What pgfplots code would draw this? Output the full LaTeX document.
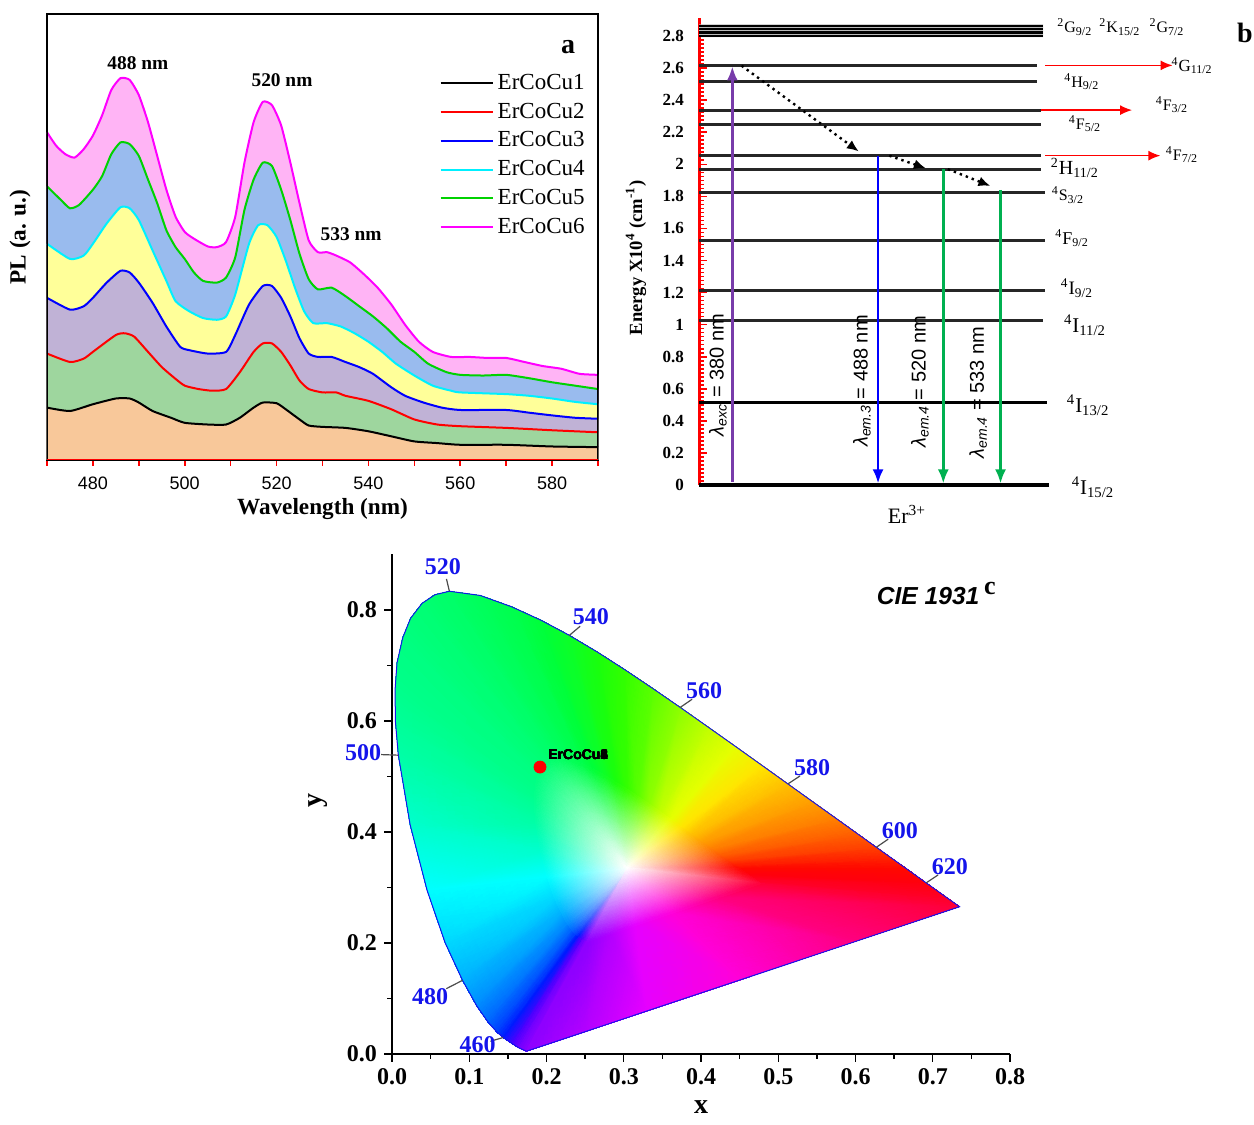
\documentclass[border=0pt]{standalone}
\usepackage{pgfplots}
\pgfplotsset{compat=1.18}
\usepackage{pgfplotstable}
\usepgfplotslibrary{patchplots}
\usetikzlibrary{arrows.meta}
\usepackage{fontspec}
\setmainfont{Liberation Serif}
\setsansfont{Liberation Sans}
\definecolor{cpeach}{RGB}{248,200,154}
\definecolor{cgreenf}{RGB}{158,214,158}
\definecolor{clav}{RGB}{192,178,214}
\definecolor{cyel}{RGB}{255,255,153}
\definecolor{cblue}{RGB}{153,187,238}
\definecolor{cpink}{RGB}{255,180,245}
\definecolor{lgreen}{RGB}{0,210,0}
\definecolor{ccyan}{RGB}{0,240,255}
\definecolor{cmag}{RGB}{255,0,255}
\definecolor{cred}{RGB}{255,0,0}
\definecolor{cblu}{RGB}{0,0,255}
\definecolor{purp}{RGB}{120,60,170}
\definecolor{egreen}{RGB}{0,176,80}
\definecolor{lblue}{RGB}{20,20,235}

\pgfplotstableread{
x y
470 155
475 145
480 165
485 182
488 182
490 170
493 145
497 125
500 110
505 105
509 105
512 125
515 155
517 170
520 168
522 150
525 120
527 102
530 98
535 95
540 85
545 70
550 55
555 50
560 45
570 45
580 40
590 38
}\cA
\pgfplotstableread{
x y
470 315
475 290
478 300
480 320
485 370
487 375
489 365
492 320
495 275
498 240
500 220
503 210
506 205
509 210
512 260
515 320
517 345
519 345
521 320
523 280
525 235
527 210
530 200
533 200
535 190
540 175
545 150
550 120
555 105
560 100
570 95
580 88
590 82
}\cB
\pgfplotstableread{
x y
470 480
475 445
478 455
480 480
483 525
486 560
488 555
490 525
493 465
496 395
499 335
501 325
505 315
509 320
511 370
514 460
517 515
519 515
521 480
523 425
525 360
527 315
529 305
532 305
535 290
538 275
541 255
545 215
548 190
552 170
556 155
560 148
570 148
575 140
580 132
585 125
590 122
}\cC
\pgfplotstableread{
x y
470 640
475 595
478 605
480 640
483 700
486 748
488 745
490 710
493 620
496 530
498 470
501 440
504 420
507 415
509 425
511 490
514 640
516 695
518 695
520 660
522 590
524 510
526 440
528 405
531 405
534 395
537 375
540 350
543 320
546 285
550 250
554 220
558 205
560 200
570 195
575 190
580 182
585 172
590 165
}\cD
\pgfplotstableread{
x y
470 810
473 770
475 745
477 755
480 800
482 840
484 905
486 940
488 935
490 900
492 830
494 760
496 680
498 630
500 595
502 555
504 530
507 525
509 540
511 600
513 740
515 830
517 880
519 870
521 800
523 710
525 610
527 535
529 505
532 510
535 485
538 455
541 425
544 390
547 350
550 320
553 285
557 260
560 252
565 250
570 252
575 242
580 230
585 220
590 210
}\cE
\pgfplotstableread{
x y
470 970
472 930
474 905
476 895
478 920
480 960
482 1020
484 1095
486 1130
488 1125
490 1080
492 1000
494 900
496 800
498 720
500 675
502 655
505 632
507 630
509 645
511 720
513 880
515 1000
517 1060
519 1050
521 990
523 880
525 760
527 650
529 615
531 615
533 605
536 585
539 550
542 510
545 460
548 400
551 350
554 320
558 305
562 305
566 302
570 302
574 290
578 278
582 270
586 255
590 252
}\cF

\pgfplotstableread{
x y c
0.305 0.335 rgb=1,1,1
0.1741 0.0050 rgb=0.55,0,1
0.1644 0.0109 rgb=0.45,0,1
0.1566 0.0177 rgb=0.3,0,1
0.1440 0.0297 rgb=0,0.1,1
0.1355 0.0399 rgb=0,0.25,1
0.1241 0.0578 rgb=0,0.4,1
0.1096 0.0868 rgb=0,0.55,1
0.0913 0.1327 rgb=0,0.7,1
0.0687 0.2007 rgb=0,0.85,1
0.0454 0.2950 rgb=0,1,1
0.0235 0.4127 rgb=0,1,0.8
0.0082 0.5384 rgb=0,1,0.65
0.0045 0.5980 rgb=0,1,0.6
0.0039 0.6548 rgb=0,1,0.55
0.0065 0.7050 rgb=0,1,0.52
0.0139 0.7502 rgb=0,1,0.5
0.0240 0.7850 rgb=0,1,0.47
0.0389 0.8120 rgb=0,1,0.45
0.0555 0.8275 rgb=0,1,0.42
0.0743 0.8338 rgb=0,1,0.4
0.1142 0.8262 rgb=0,1,0.35
0.1547 0.8059 rgb=0,1,0.3
0.1929 0.7816 rgb=0,1,0.22
0.2296 0.7543 rgb=0.05,1,0.15
0.2658 0.7243 rgb=0.1,1,0.05
0.3016 0.6923 rgb=0.2,1,0
0.3373 0.6589 rgb=0.35,1,0
0.3731 0.6245 rgb=0.55,1,0
0.4087 0.5896 rgb=0.75,1,0
0.4441 0.5547 rgb=0.9,1,0
0.4788 0.5202 rgb=1,0.9,0
0.5125 0.4866 rgb=1,0.75,0
0.5448 0.4544 rgb=1,0.62,0
0.5752 0.4242 rgb=1,0.5,0
0.6029 0.3965 rgb=1,0.37,0
0.6270 0.3725 rgb=1,0.25,0
0.6482 0.3514 rgb=1,0.12,0
0.6658 0.3340 rgb=1,0.03,0
0.6915 0.3083 rgb=1,0,0.05
0.7190 0.2809 rgb=1,0,0.15
0.7347 0.2653 rgb=1,0,0.22
0.6000 0.2028 rgb=1,0,0.5
0.4500 0.1331 rgb=1,0,0.85
0.3300 0.0774 rgb=0.9,0,1
0.2500 0.0402 rgb=0.7,0,1
0.2526 0.2030 rgb=0.55,0,1
0.2488 0.2054 rgb=0.45,0,1
0.2456 0.2081 rgb=0.3,0,1
0.2406 0.2129 rgb=0,0.1,1
0.2372 0.2170 rgb=0,0.25,1
0.2326 0.2241 rgb=0,0.4,1
0.2268 0.2357 rgb=0,0.55,1
0.2195 0.2541 rgb=0,0.7,1
0.2105 0.2813 rgb=0,0.85,1
0.2012 0.3190 rgb=0,1,1
0.1924 0.3661 rgb=0,1,0.8
0.1863 0.4164 rgb=0,1,0.65
0.1848 0.4402 rgb=0,1,0.6
0.1846 0.4629 rgb=0,1,0.55
0.1856 0.4830 rgb=0,1,0.52
0.1886 0.5011 rgb=0,1,0.5
0.1926 0.5150 rgb=0,1,0.47
0.1986 0.5258 rgb=0,1,0.45
0.2052 0.5320 rgb=0,1,0.42
0.2127 0.5345 rgb=0,1,0.4
0.2287 0.5315 rgb=0,1,0.35
0.2449 0.5234 rgb=0,1,0.3
0.2602 0.5136 rgb=0,1,0.22
0.2748 0.5027 rgb=0.05,1,0.15
0.2893 0.4897 rgb=0.1,1,0.05
0.3036 0.4779 rgb=0.2,1,0
0.3179 0.4646 rgb=0.35,1,0
0.3322 0.4508 rgb=0.55,1,0
0.3465 0.4368 rgb=0.75,1,0
0.3606 0.4229 rgb=0.9,1,0
0.3745 0.4091 rgb=1,0.9,0
0.3880 0.3956 rgb=1,0.75,0
0.4009 0.3828 rgb=1,0.62,0
0.4131 0.3707 rgb=1,0.5,0
0.4242 0.3596 rgb=1,0.37,0
0.4338 0.3500 rgb=1,0.25,0
0.4423 0.3416 rgb=1,0.12,0
0.4493 0.3346 rgb=1,0.03,0
0.4596 0.3243 rgb=1,0,0.05
0.4706 0.3134 rgb=1,0,0.15
0.4769 0.3071 rgb=1,0,0.22
0.4230 0.2821 rgb=1,0,0.5
0.3630 0.2542 rgb=1,0,0.85
0.3150 0.2320 rgb=0.9,0,1
0.2830 0.2171 rgb=0.7,0,1
0.1741 0.0050 rgb=0.55,0,1
}\cie

\begin{document}
\begin{tikzpicture}
\path[use as bounding box] (0,-4pt) rectangle (627pt,558.5pt);

% ---------------- panel a ----------------
\begin{axis}[
  at={(23.5pt,328.5pt)}, anchor=south west, scale only axis,
  width=275.5pt, height=223pt,
  xmin=470, xmax=590, ymin=0, ymax=1320,
  xtick={480,500,...,580}, minor xtick={470,490,...,590},
  ytick=\empty, xtick pos=left, tick align=outside,
  tick style={red, line width=0.8pt}, major tick length=3pt, minor tick length=3pt,
  axis line style={line width=0.9pt},
  tick label style={font=\fontsize{9}{10}\sffamily},
  xticklabel style={yshift=-2pt},
  /pgf/number format/assume math mode=true,
  xlabel={Wavelength (nm)}, ylabel={PL (a. u.)},
  label style={font=\fontsize{11.6}{13}\bfseries},
  xlabel style={at={(axis description cs:0.5,-0.11)}, anchor=center},
  ylabel style={at={(axis description cs:-0.049,0.5)}, anchor=center},
  legend style={draw=none, fill=none, at={(axis description cs:0.712,0.878)}, anchor=north west,
    inner sep=0pt, font=\fontsize{11.5}{12}\selectfont, row sep=0pt,
    nodes={inner ysep=1.7pt, text height=8.5pt, text depth=2.5pt, inner xsep=2pt}},
  legend cell align=left,
  legend image code/.code={\draw[#1, line width=1pt] (0pt,0pt) -- (26pt,0pt);},
]
\addplot[smooth, tension=0.35, draw=none, fill=cpink, forget plot] table {\cF} \closedcycle;
\addplot[smooth, tension=0.35, draw=none, fill=cblue, forget plot] table {\cE} \closedcycle;
\addplot[smooth, tension=0.35, draw=none, fill=cyel, forget plot] table {\cD} \closedcycle;
\addplot[smooth, tension=0.35, draw=none, fill=clav, forget plot] table {\cC} \closedcycle;
\addplot[smooth, tension=0.35, draw=none, fill=cgreenf, forget plot] table {\cB} \closedcycle;
\addplot[smooth, tension=0.35, draw=none, fill=cpeach, forget plot] table {\cA} \closedcycle;
\addplot[smooth, tension=0.35, black, line width=1pt] table {\cA};
\addplot[smooth, tension=0.35, cred, line width=1pt] table {\cB};
\addplot[smooth, tension=0.35, cblu, line width=1pt] table {\cC};
\addplot[smooth, tension=0.35, ccyan, line width=1pt] table {\cD};
\addplot[smooth, tension=0.35, lgreen, line width=1pt] table {\cE};
\addplot[smooth, tension=0.35, cmag, line width=1pt] table {\cF};
\legend{ErCoCu1,ErCoCu2,ErCoCu3,ErCoCu4,ErCoCu5,ErCoCu6}
\node[font=\fontsize{9.7}{11}\bfseries] at (axis description cs:0.165,0.89) {488 nm};
\node[font=\fontsize{9.7}{11}\bfseries] at (axis description cs:0.4265,0.852) {520 nm};
\node[font=\fontsize{9.7}{11}\bfseries] at (axis description cs:0.552,0.507) {533 nm};
\node[font=\fontsize{14}{15}\bfseries] at (axis description cs:0.946,0.925) {a};
\draw[line width=0.9pt] (rel axis cs:0,0) rectangle (rel axis cs:1,1);
\draw[red, line width=0.9pt] (rel axis cs:0,0) -- (rel axis cs:1,0);
\end{axis}

% ---------------- panel b ----------------
\begin{axis}[
  at={(349.5pt,316pt)}, anchor=south west, scale only axis,
  width=174.5pt, height=233.3pt,
  xmin=0, xmax=1, ymin=0, ymax=2.91, clip=false,
  axis x line=none, axis y line*=left,
  y axis line style={red, line width=1.5pt},
  xtick=\empty,
  ytick={0,0.2,0.4,0.6,0.8,1,1.2,1.4,1.6,1.8,2,2.2,2.4,2.6,2.8},
  yticklabels={0,0.2,0.4,0.6,0.8,1,1.2,1.4,1.6,1.8,2,2.2,2.4,2.6,2.8},
  minor y tick num=7, tick align=inside,
  tick style={red, line width=0.8pt}, major tick length=4pt, minor tick length=2.5pt,
  yticklabel style={font=\fontsize{8.5}{9}\bfseries, xshift=-4pt},
  ylabel={Energy X10\textsuperscript{4} (cm\textsuperscript{-1})},
  ylabel style={font=\fontsize{9.3}{10}\bfseries, at={(axis description cs:-0.1805,0.4865)}, anchor=center},
]
% energy levels
\addplot[draw=none, fill=gray!55] coordinates {(0,2.793) (0.986,2.793) (0.986,2.872) (0,2.872) (0,2.793)};
\addplot[black, line width=1.1pt] coordinates {(0,2.800) (0.986,2.800)};
\addplot[black, line width=1.1pt] coordinates {(0,2.822) (0.986,2.822)};
\addplot[black, line width=1.1pt] coordinates {(0,2.843) (0.986,2.843)};
\addplot[black, line width=1.1pt] coordinates {(0,2.865) (0.986,2.865)};
\addplot[black!85, line width=1.5pt] coordinates {(0,2.617) (0.969,2.617)};
\addplot[black!85, line width=1.5pt] coordinates {(0,2.516) (0.969,2.516)};
\addplot[black!85, line width=1.5pt] coordinates {(0,2.338) (0.980,2.338)};
\addplot[black!85, line width=1.5pt] coordinates {(0,2.249) (0.980,2.249)};
\addplot[black!85, line width=1.5pt] coordinates {(0,2.054) (0.980,2.054)};
\addplot[black!85, line width=1.5pt] coordinates {(0,1.970) (0.980,1.970)};
\addplot[black!85, line width=1.5pt] coordinates {(0,1.825) (0.992,1.825)};
\addplot[black!85, line width=1.5pt] coordinates {(0,1.525) (0.992,1.525)};
\addplot[black!85, line width=1.5pt] coordinates {(0,1.210) (0.992,1.210)};
\addplot[black!85, line width=1.5pt] coordinates {(0,1.025) (0.986,1.025)};
\addplot[black, line width=1.6pt] coordinates {(0,0.512) (0.998,0.512)};
\addplot[black, line width=1.8pt] coordinates {(0,0) (1.004,0)};
% red arrows
\addplot[red, line width=0.8pt, -{Latex[length=6pt,width=5pt]}] coordinates {(0.992,2.617) (1.357,2.617)};
\addplot[red, line width=0.8pt, -{Latex[length=6pt,width=5pt]}] coordinates {(0.980,2.338) (1.241,2.338)};
\addplot[red, line width=0.8pt, -{Latex[length=6pt,width=5pt]}] coordinates {(0.992,2.054) (1.322,2.054)};
% vertical arrows
\addplot[purp, line width=1.2pt, -{Latex[length=7pt,width=5.5pt]}] coordinates {(0.0955,0.02) (0.0955,2.61)};
\addplot[cblu, line width=1.2pt, -{Latex[length=7pt,width=5.5pt]}] coordinates {(0.513,2.054) (0.513,0.01)};
\addplot[egreen, line width=1.2pt, -{Latex[length=7pt,width=5.5pt]}] coordinates {(0.700,1.970) (0.700,0.01)};
\addplot[egreen, line width=1.2pt, -{Latex[length=7pt,width=5.5pt]}] coordinates {(0.864,1.840) (0.864,0.01)};
% non-radiative relaxation
\addplot[black, line width=1.2pt, dotted, -{Latex[length=6pt,width=5pt]}] coordinates {(0.122,2.615) (0.458,2.08)};
\addplot[black, line width=1.2pt, dotted, -{Latex[length=6pt,width=5pt]}] coordinates {(0.545,2.054) (0.650,1.975)};
\addplot[black, line width=1.2pt, dotted, -{Latex[length=6pt,width=5pt]}] coordinates {(0.713,1.970) (0.835,1.865)};
% rotated labels
\node[rotate=90, font=\fontsize{10}{11}\sffamily] at (axis cs:0.054,0.686) {\textit{λ}\textsubscript{\textit{exc}} = 380 nm};
\node[rotate=90, font=\fontsize{10}{11}\sffamily] at (axis cs:0.467,0.649) {\textit{λ}\textsubscript{\textit{em.3}} = 488 nm};
\node[rotate=90, font=\fontsize{10}{11}\sffamily] at (axis cs:0.633,0.643) {\textit{λ}\textsubscript{\textit{em.4}} = 520 nm};
\node[rotate=90, font=\fontsize{10}{11}\sffamily] at (axis cs:0.800,0.577) {\textit{λ}\textsubscript{\textit{em.4}} = 533 nm};
% level labels
\node[font=\fontsize{8}{9}\selectfont] at (axis cs:1.077,2.856) {\textsuperscript{2}G\textsubscript{9/2}};
\node[font=\fontsize{8}{9}\selectfont] at (axis cs:1.206,2.856) {\textsuperscript{2}K\textsubscript{15/2}};
\node[font=\fontsize{8}{9}\selectfont] at (axis cs:1.341,2.856) {\textsuperscript{2}G\textsubscript{7/2}};
\node[font=\fontsize{8.5}{9}\selectfont] at (axis cs:1.413,2.613) {\textsuperscript{4}G\textsubscript{11/2}};
\node[font=\fontsize{8}{9}\selectfont] at (axis cs:1.097,2.513) {\textsuperscript{4}H\textsubscript{9/2}};
\node[font=\fontsize{8}{9}\selectfont] at (axis cs:1.355,2.370) {\textsuperscript{4}F\textsubscript{3/2}};
\node[font=\fontsize{8}{9}\selectfont] at (axis cs:1.106,2.251) {\textsuperscript{4}F\textsubscript{5/2}};
\node[font=\fontsize{8}{9}\selectfont] at (axis cs:1.384,2.058) {\textsuperscript{4}F\textsubscript{7/2}};
\node[font=\fontsize{10}{11}\selectfont] at (axis cs:1.077,1.977) {\textsuperscript{2}H\textsubscript{11/2}};
\node[font=\fontsize{8}{9}\selectfont] at (axis cs:1.057,1.808) {\textsuperscript{4}S\textsubscript{3/2}};
\node[font=\fontsize{9}{10}\selectfont] at (axis cs:1.069,1.540) {\textsuperscript{4}F\textsubscript{9/2}};
\node[font=\fontsize{9.5}{10}\selectfont] at (axis cs:1.083,1.228) {\textsuperscript{4}I\textsubscript{9/2}};
\node[font=\fontsize{10.5}{11}\selectfont] at (axis cs:1.106,0.998) {\textsuperscript{4}I\textsubscript{11/2}};
\node[font=\fontsize{10.5}{11}\selectfont] at (axis cs:1.115,0.499) {\textsuperscript{4}I\textsubscript{13/2}};
\node[font=\fontsize{10.5}{11}\selectfont] at (axis cs:1.129,-0.012) {\textsuperscript{4}I\textsubscript{15/2}};
\node[font=\fontsize{14}{15}\bfseries] at (axis cs:1.564,2.819) {b};
\node[font=\fontsize{11}{12}\selectfont] at (axis description cs:0.596,-0.064) {Er\textsuperscript{3+}};
\end{axis}

% ---------------- panel c ----------------
\begin{axis}[
  at={(196pt,31.5pt)}, anchor=south west, scale only axis,
  width=309pt, height=249.75pt,
  xmin=0, xmax=0.8, ymin=0, ymax=0.9, clip=false,
  axis lines*=left, tick align=outside,
  axis line style={line width=0.8pt},
  xtick={0,0.1,...,0.8}, minor x tick num=1,
  ytick={0,0.2,0.4,0.6,0.8}, minor y tick num=1,
  major tick length=4pt, minor tick length=2.5pt,
  tick style={black, line width=0.7pt},
  /pgf/number format/assume math mode=true,
  /pgf/number format/fixed, /pgf/number format/fixed zerofill, /pgf/number format/precision=1,
  tick label style={font=\fontsize{12}{13}\bfseries},
  xticklabel style={inner sep=1pt, yshift=-2pt},
  xlabel={x}, ylabel={y},
  label style={font=\fontsize{14}{15}\bfseries},
  xlabel style={at={(axis description cs:0.5,-0.107)}, anchor=center, inner sep=0pt},
  ylabel style={at={(axis description cs:-0.12,0.507)}, anchor=center},
]
\addplot[patch, patch type=triangle, shader=interp, mesh/color input=explicit,
  table/row sep=\\,
  patch table={
1 2 47\\ 1 47 46\\ 0 46 47\\
2 3 48\\ 2 48 47\\ 0 47 48\\
3 4 49\\ 3 49 48\\ 0 48 49\\
4 5 50\\ 4 50 49\\ 0 49 50\\
5 6 51\\ 5 51 50\\ 0 50 51\\
6 7 52\\ 6 52 51\\ 0 51 52\\
7 8 53\\ 7 53 52\\ 0 52 53\\
8 9 54\\ 8 54 53\\ 0 53 54\\
9 10 55\\ 9 55 54\\ 0 54 55\\
10 11 56\\ 10 56 55\\ 0 55 56\\
11 12 57\\ 11 57 56\\ 0 56 57\\
12 13 58\\ 12 58 57\\ 0 57 58\\
13 14 59\\ 13 59 58\\ 0 58 59\\
14 15 60\\ 14 60 59\\ 0 59 60\\
15 16 61\\ 15 61 60\\ 0 60 61\\
16 17 62\\ 16 62 61\\ 0 61 62\\
17 18 63\\ 17 63 62\\ 0 62 63\\
18 19 64\\ 18 64 63\\ 0 63 64\\
19 20 65\\ 19 65 64\\ 0 64 65\\
20 21 66\\ 20 66 65\\ 0 65 66\\
21 22 67\\ 21 67 66\\ 0 66 67\\
22 23 68\\ 22 68 67\\ 0 67 68\\
23 24 69\\ 23 69 68\\ 0 68 69\\
24 25 70\\ 24 70 69\\ 0 69 70\\
25 26 71\\ 25 71 70\\ 0 70 71\\
26 27 72\\ 26 72 71\\ 0 71 72\\
27 28 73\\ 27 73 72\\ 0 72 73\\
28 29 74\\ 28 74 73\\ 0 73 74\\
29 30 75\\ 29 75 74\\ 0 74 75\\
30 31 76\\ 30 76 75\\ 0 75 76\\
31 32 77\\ 31 77 76\\ 0 76 77\\
32 33 78\\ 32 78 77\\ 0 77 78\\
33 34 79\\ 33 79 78\\ 0 78 79\\
34 35 80\\ 34 80 79\\ 0 79 80\\
35 36 81\\ 35 81 80\\ 0 80 81\\
36 37 82\\ 36 82 81\\ 0 81 82\\
37 38 83\\ 37 83 82\\ 0 82 83\\
38 39 84\\ 38 84 83\\ 0 83 84\\
39 40 85\\ 39 85 84\\ 0 84 85\\
40 41 86\\ 40 86 85\\ 0 85 86\\
41 42 87\\ 41 87 86\\ 0 86 87\\
42 43 88\\ 42 88 87\\ 0 87 88\\
43 44 89\\ 43 89 88\\ 0 88 89\\
44 45 90\\ 44 90 89\\ 0 89 90\\
45 1 46\\ 45 46 90\\ 0 90 46\\
}] table[meta=c] {\cie};
% outline of the locus
\addplot[lblue, line width=0.5pt, skip coords between index={0}{1}, skip coords between index={46}{91}] table[x=x, y=y] {\cie};
% wavelength markers
\addplot[gray!60!black, line width=0.6pt] coordinates {(0.0743,0.8338) (0.0705,0.8560)};
\addplot[gray!60!black, line width=0.6pt] coordinates {(0.2296,0.7543) (0.2436,0.7708)};
\addplot[gray!60!black, line width=0.6pt] coordinates {(0.3731,0.6245) (0.3885,0.6392)};
\addplot[gray!60!black, line width=0.6pt] coordinates {(0.5125,0.4866) (0.5281,0.5009)};
\addplot[gray!60!black, line width=0.6pt] coordinates {(0.6270,0.3725) (0.6423,0.3871)};
\addplot[gray!60!black, line width=0.6pt] coordinates {(0.6915,0.3083) (0.7069,0.3226)};
\addplot[gray!60!black, line width=0.6pt] coordinates {(0.0082,0.5384) (-0.014,0.5395)};
\addplot[gray!60!black, line width=0.6pt] coordinates {(0.0913,0.1327) (0.0703,0.1177)};
\addplot[gray!60!black, line width=0.6pt] coordinates {(0.1440,0.0297) (0.1274,0.0230)};
\node[font=\fontsize{12}{13}\bfseries, text=lblue] at (axis cs:0.066,0.879) {520};
\node[font=\fontsize{12}{13}\bfseries, text=lblue] at (axis cs:0.2576,0.7874) {540};
\node[font=\fontsize{12}{13}\bfseries, text=lblue] at (axis cs:0.4039,0.654) {560};
\node[font=\fontsize{12}{13}\bfseries, text=lblue] at (axis cs:0.5437,0.5153) {580};
\node[font=\fontsize{12}{13}\bfseries, text=lblue] at (axis cs:0.6576,0.4018) {600};
\node[font=\fontsize{12}{13}\bfseries, text=lblue] at (axis cs:0.7223,0.3369) {620};
\node[font=\fontsize{12}{13}\bfseries, text=lblue] at (axis cs:-0.0375,0.5423) {500};
\node[font=\fontsize{12}{13}\bfseries, text=lblue] at (axis cs:0.0492,0.1027) {480};
\node[font=\fontsize{12}{13}\bfseries, text=lblue] at (axis cs:0.1107,0.0162) {460};
% sample point
\addplot[only marks, mark=*, mark size=3pt, color=red] coordinates {(0.1916,0.517)};
\node[anchor=west, font=\fontsize{7}{8}\sffamily\bfseries, inner sep=0pt] at (axis cs:0.2019,0.5387) {ErCoCu1};
\node[anchor=west, font=\fontsize{7}{8}\sffamily\bfseries, inner sep=0pt] at (axis cs:0.2019,0.5387) {ErCoCu2};
\node[anchor=west, font=\fontsize{7}{8}\sffamily\bfseries, inner sep=0pt] at (axis cs:0.2019,0.5387) {ErCoCu3};
\node[anchor=west, font=\fontsize{7}{8}\sffamily\bfseries, inner sep=0pt] at (axis cs:0.2019,0.5387) {ErCoCu4};
\node[anchor=west, font=\fontsize{7}{8}\sffamily\bfseries, inner sep=0pt] at (axis cs:0.2019,0.5387) {ErCoCu5};
\node[anchor=west, font=\fontsize{7}{8}\sffamily\bfseries, inner sep=0pt] at (axis cs:0.2019,0.5387) {ErCoCu6};
\node[font=\fontsize{12.3}{13}\sffamily\bfseries\itshape] at (axis cs:0.694,0.825) {CIE 1931};
\node[font=\fontsize{13}{14}\bfseries] at (axis cs:0.774,0.838) {c};
\end{axis}
\end{tikzpicture}
\end{document}
